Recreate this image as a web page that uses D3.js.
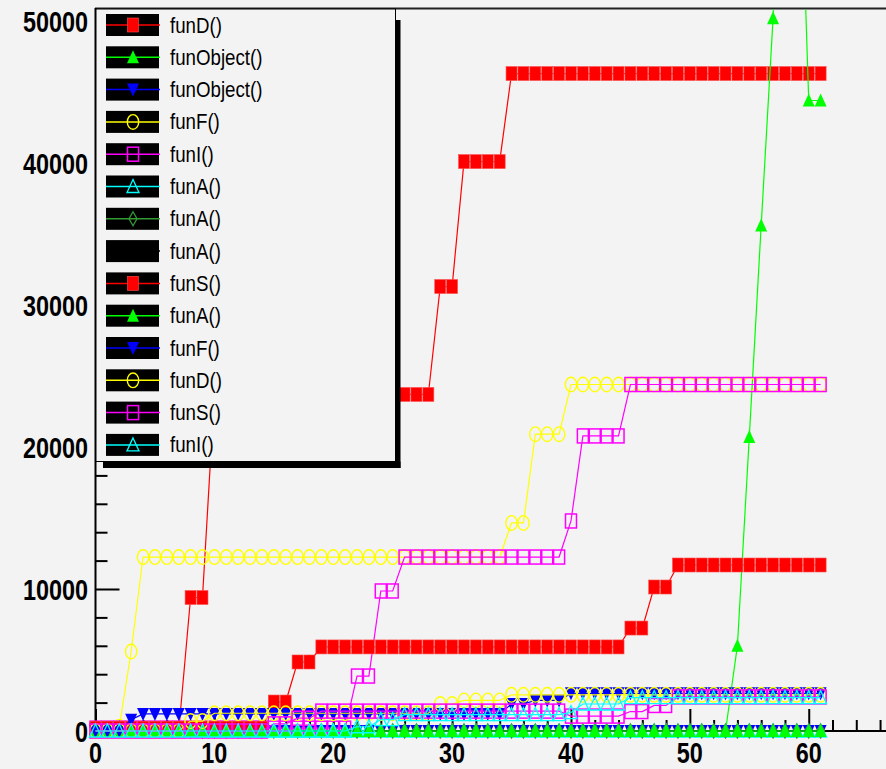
<!DOCTYPE html>
<html><head><meta charset="utf-8">
<script src="https://cdn.jsdelivr.net/npm/d3@7"></script>
<style>html,body{margin:0;padding:0;background:#f3f3f3;}svg{display:block;}</style>
</head><body><svg id="c" width="886" height="769"></svg>
<script>
const xs = [0,1,2,3,4,5,6,7,8,9,10,11,12,13,14,15,16,17,18,19,20,21,22,23,24,25,26,27,28,29,30,31,32,33,34,35,36,37,38,39,40,41,42,43,44,45,46,47,48,49,50,51,52,53,54,55,56,57,58,59,60,61];
const seriesNames = ["funD()","funObject()","funObject()","funF()","funI()","funA()","funA()","funA()","funS()","funA()","funF()","funD()","funS()","funI()"];
const seriesColors = ["#ff0000","#00ff00","#0000ff","#ffff00","#ff00ff","#00ffff","#339933","#000000","#ff0000","#00ff00","#0000ff","#ffff00","#ff00ff","#00ffff"];
const seriesMarkers = ["fsquare","ftriup","ftridown","ocircle","osquare","otriup","odiamond","fcircle","fsquare","ftriup","ftridown","ocircle","osquare","otriup"];

const s1 = [0,0,0,0,0,0,0,0,9400,9400,
 23700,23700,23700,23700,23700,23700,23700,23700,23700,23700,
 23700,23700,23700,23700,23700,23700,23700,23700,23700,31300,
 31300,40100,40100,40100,40100,46300,46300,46300,46300,46300,
 46300,46300,46300,46300,46300,46300,46300,46300,46300,46300,
 46300,46300,46300,46300,46300,46300,46300,46300,46300,46300,
 46300,46300];
const s2 = [0,0,0,0,0,0,0,0,0,0, 0,0,0,0,0,0,0,0,0,0, 0,0,0,0,0,0,0,0,0,0,
 0,0,0,0,0,0,0,0,0,0, 0,0,0,0,0,0,0,0,0,0,
 0,0,0,0,6000,20700,35600,50200,75000,70000, 44400,44400];
const s3 = [0,0,0,0,0,0,0,0,0,0, 0,0,0,0,0,0,0,0,0,0, 0,0,0,0,0,0,0,0,0,0,
 0,0,0,0,0,0,0,0,0,0, 0,0,0,0,0,0,0,0,0,0, 0,0,0,0,0,0,0,0,0,0, 0,0];
const s4 = [0,0,300,5600,12250,12250,12250,12250,12250,12250,
 12250,12250,12250,12250,12250,12250,12250,12250,12250,12250,
 12250,12250,12250,12250,12250,12250,12250,12250,12250,12250,
 12250,12250,12250,12250,12250,14650,14650,20900,20900,20900,
 24400,24400,24400,24400,24400,24400,24400,24400,24400,24400,
 24400,24400,24400,24400,24400,24400,24400,24400,24400,24400,
 24400,24400];
const s5 = [200,200,200,200,200,200,200,200,200,200,
 200,200,200,200,200,200,200,200,200,200,
 200,200,3870,3870,9860,9860,12250,12250,12250,12250,
 12250,12250,12250,12250,12250,12250,12250,12250,12250,12250,
 14790,20780,20780,20780,20780,24400,24400,24400,24400,24400,
 24400,24400,24400,24400,24400,24400,24400,24400,24400,24400,
 24400,24400];
const s6 = [0,0,0,0,0,0,0,0,0,0, 0,0,0,0,0,0,0,0,0,0, 0,0,0,0,0,0,0,0,0,0,
 0,0,0,0,0,0,0,0,0,0, 0,0,0,0,0,0,0,0,0,0, 0,0,0,0,0,0,0,0,0,0, 0,0];
const s7 = [0,0,0,0,0,0,0,0,0,0, 0,0,0,0,0,0,0,0,0,0, 0,0,0,0,0,0,0,0,0,0,
 0,0,0,0,0,0,0,0,0,0, 0,0,0,0,0,0,0,0,0,0, 0,0,0,0,0,0,0,0,0,0, 0,0];
const s8 = [0,0,0,0,0,0,0,0,0,0, 0,0,0,0,0,0,0,0,0,0, 0,0,0,0,0,0,0,0,0,0,
 0,0,0,0,0,0,0,0,0,0, 0,0,0,0,0,0,0,0,0,0, 0,0,0,0,0,0,0,0,0,0, 0,0];
const s9 = [200,200,200,200,200,200,200,200,200,200,
 200,200,200,200,200,2040,2040,4860,4860,5920,
 5920,5920,5920,5920,5920,5920,5920,5920,5920,5920,
 5920,5920,5920,5920,5920,5920,5920,5920,5920,5920,
 5920,5920,5920,5920,5920,7250,7250,10140,10140,11690,
 11690,11690,11690,11690,11690,11690,11690,11690,11690,11690,
 11690,11690];
const s10 = [0,0,0,0,0,0,0,0,0,0, 0,0,0,0,0,0,0,0,0,0, 0,0,0,0,0,0,0,0,0,0,
 0,0,0,0,0,0,0,0,0,0, 0,0,0,0,0,0,0,0,0,0, 0,0,0,0,0,0,0,0,0,0, 0,0];
const s11 = [0,0,0,800,1200,1200,1200,1200,1200,1200,
 1200,1200,1200,1200,1200,1200,1200,1200,1200,1200,
 1200,1200,1200,1200,1200,1200,1200,1200,1200,1200,
 1200,1200,1200,1200,1200,1900,1900,2150,2150,2150,
 2650,2650,2650,2650,2650,2650,2650,2650,2650,2650,
 2650,2650,2650,2650,2650,2650,2650,2650,2650,2650,
 2650,2650];
const s12 = [0,0,0,0,0,0,0,0,700,700,
 1250,1250,1250,1250,1250,1250,1250,1250,1250,1250,
 1250,1250,1250,1250,1250,1250,1250,1250,1250,1900,
 1900,2150,2150,2150,2150,2550,2550,2550,2550,2550,
 2550,2550,2550,2550,2550,2550,2550,2550,2550,2550,
 2550,2550,2550,2550,2550,2550,2550,2550,2550,2550,
 2550,2550];
const s13 = [0,0,0,0,0,0,0,0,0,0,
 0,0,0,0,0,500,500,900,900,1400,
 1400,1400,1400,1400,1400,1400,1400,1400,1400,1400,
 1400,1400,1400,1400,1400,1400,1400,1400,1400,1400,
 1050,1050,1050,1050,1050,1370,1370,1800,1800,2400,
 2400,2400,2400,2400,2400,2400,2400,2400,2400,2400,
 2400,2400];
const s14 = [0,0,0,0,0,0,0,0,0,0,
 0,0,0,0,0,0,0,0,0,0,
 0,0,300,300,800,800,1150,1150,1150,1150,
 1150,1150,1150,1150,1150,1150,1150,1150,1150,1150,
 1300,1900,1900,1900,1900,2350,2350,2350,2350,2350,
 2350,2350,2350,2350,2350,2350,2350,2350,2350,2350,
 2350,2350];
const seriesValues = [s1,s2,s3,s4,s5,s6,s7,s8,s9,s10,s11,s12,s13,s14];
const yTickValues = [0,10000,20000,30000,40000,50000];
const xTickValues = [0,10,20,30,40,50,60];

const svg = d3.select("#c");
const W = 886, H = 769;
const x = d3.scaleLinear().domain([0, 66.5]).range([95.5, 886]);
const y = d3.scaleLinear().domain([0, 50880]).range([731, 8.5]);

svg.append("rect").attr("width", W).attr("height", H).attr("fill", "#f3f3f3");

// axes
const yMinor = d3.range(0, 50001, 2000);
const xMinor = d3.range(0, 67, 2);
const yAx = d3.axisRight(y).tickValues(yMinor).tickSize(0).tickFormat("");
const gy = svg.append("g").attr("transform", "translate(95.5,0)").call(yAx);
gy.select(".domain").remove();
gy.selectAll(".tick line").attr("x2", d => (d % 10000 === 0 ? 24 : 12)).attr("stroke", "#000").attr("stroke-width", 2);
const xAx = d3.axisTop(x).tickValues(xMinor).tickSize(0).tickFormat("");
const gx = svg.append("g").attr("transform", "translate(0,731)").call(xAx);
gx.select(".domain").remove();
gx.selectAll(".tick line").attr("y2", d => (d % 10 === 0 ? -22 : -11)).attr("stroke", "#000").attr("stroke-width", 2);

svg.append("line").attr("x1", 95).attr("x2", 886).attr("y1", 8.5).attr("y2", 8.5).attr("stroke", "#222").attr("stroke-width", 2);
svg.append("line").attr("x1", 95.5).attr("x2", 95.5).attr("y1", 8).attr("y2", 732).attr("stroke", "#000").attr("stroke-width", 2);
svg.append("line").attr("x1", 95).attr("x2", 886).attr("y1", 731).attr("y2", 731).attr("stroke", "#000").attr("stroke-width", 2);

// markers
function markerPath(sel, type, color) {
  if (type === "fsquare") {
    sel.append("rect").attr("x", -5.5).attr("y", -7).attr("width", 11).attr("height", 14).attr("fill", color).attr("stroke", "#ff5050").attr("stroke-width", 0.6);
  } else if (type === "osquare") {
    sel.append("rect").attr("x", -5.5).attr("y", -7).attr("width", 11).attr("height", 14).attr("fill", "none").attr("stroke", color).attr("stroke-width", 1.5);
  } else if (type === "ocircle") {
    sel.append("ellipse").attr("rx", 5.7).attr("ry", 7.3).attr("fill", "none").attr("stroke", color).attr("stroke-width", 1.4);
  } else if (type === "ftriup") {
    sel.append("path").attr("d", "M0,-7L6,6L-6,6Z").attr("fill", color);
  } else if (type === "ftridown") {
    sel.append("path").attr("d", "M0,7L6,-6L-6,-6Z").attr("fill", color);
  } else if (type === "otriup") {
    sel.append("path").attr("d", "M0,-7L6,6L-6,6Z").attr("fill", "none").attr("stroke", color).attr("stroke-width", 1.3);
  } else if (type === "odiamond") {
    sel.append("path").attr("d", "M0,-7L4,0L0,7L-4,0Z").attr("fill", "none").attr("stroke", color).attr("stroke-width", 1.3);
  } else if (type === "fcircle") {
    sel.append("ellipse").attr("rx", 2.5).attr("ry", 3).attr("fill", color);
  }
}

svg.append("clipPath").attr("id", "clipL").append("rect").attr("x", 95).attr("y", 9.5).attr("width", 791).attr("height", 735);
const plot = svg.append("g");
const line = d3.line().x(d => x(d[0])).y(d => y(d[1]));
seriesValues.forEach((vals, i) => {
  const pts = xs.map((xv, k) => [xv, vals[k]]);
  const g = plot.append("g");
  g.append("path").attr("d", line(pts)).attr("fill", "none").attr("stroke", seriesColors[i]).attr("stroke-width", 1.2).attr("clip-path", "url(#clipL)");
  pts.filter(p => p[1] <= y.domain()[1]).forEach(p => {
    const m = g.append("g").attr("transform", `translate(${x(p[0])},${y(p[1])})`);
    markerPath(m, seriesMarkers[i], seriesColors[i]);
  });
});

// tick labels
const labFont = "'Liberation Sans', Arial, sans-serif";
yTickValues.forEach(v => {
  svg.append("text").attr("transform", `translate(88,${y(v) + 10.7}) scale(0.78,1)`)
    .attr("text-anchor", "end").attr("font-family", labFont).attr("font-weight", "bold").attr("font-size", 30).attr("fill", "#000").text(v);
});
xTickValues.forEach(v => {
  svg.append("text").attr("transform", `translate(${x(v)},762.5) scale(0.78,1)`)
    .attr("text-anchor", "middle").attr("font-family", labFont).attr("font-weight", "bold").attr("font-size", 30).attr("fill", "#000").text(v);
});

// legend
const L = {x0: 96, y0: 9, x1: 395.5, y1: 461.5};
svg.append("rect").attr("x", 395.5).attr("y", 20).attr("width", 5).attr("height", 448).attr("fill", "#000");
svg.append("rect").attr("x", 103).attr("y", 461.5).attr("width", 297.5).attr("height", 6.5).attr("fill", "#000");
svg.append("rect").attr("x", L.x0).attr("y", L.y0).attr("width", L.x1 - L.x0).attr("height", L.y1 - L.y0)
  .attr("fill", "#f3f3f3").attr("stroke", "#000").attr("stroke-width", 1);
seriesNames.forEach((name, i) => {
  const cy = 25 + i * 32.3;
  const g = svg.append("g");
  g.append("rect").attr("x", 106).attr("y", cy - 11).attr("width", 53).attr("height", 22).attr("fill", "#000");
  g.append("line").attr("x1", 106).attr("x2", 160).attr("y1", cy).attr("y2", cy).attr("stroke", seriesColors[i]).attr("stroke-width", 1.5);
  const m = g.append("g").attr("transform", `translate(133,${cy})`);
  markerPath(m, seriesMarkers[i], seriesColors[i]);
  g.append("text").attr("transform", `translate(170,${cy + 7.5}) scale(0.85,1)`)
    .attr("font-family", labFont).attr("font-size", 22).attr("fill", "#000").text(name);
});
</script></body></html>
